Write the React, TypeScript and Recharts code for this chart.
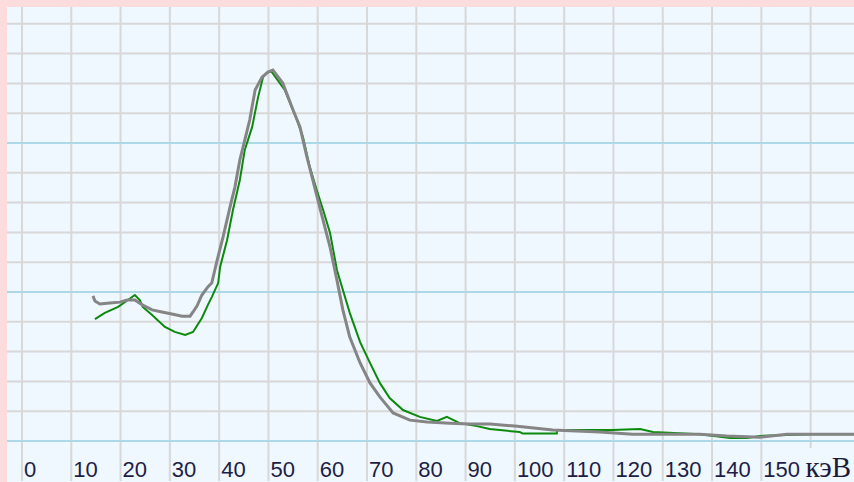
import { LineChart, Line, XAxis, YAxis, ReferenceLine } from 'recharts'

// energy (keV) and counts
const grayEnergy = [
  14.4, 14.8, 15.8, 17.8, 19.9, 21.3, 22.9, 24.5, 26.4, 28.4, 30.4, 32.5, 34.1, 34.7, 35.5,
  36.5, 37.7, 38.5, 39.6, 40.8, 42.2, 43.2, 44.2, 45.2, 46.2, 47.3, 48.7, 49.9, 50.9, 52.9,
  55.0, 56.4, 57.8, 59.0, 60.4, 62.5, 63.9, 65.1, 66.5, 68.6, 70.6, 72.6, 75.3, 78.7, 82.2,
  86.8, 90.9, 95.0, 100.0, 107.7, 117.2, 123.9, 128.0, 137.5, 143.0, 149.7, 155.2, 164.5, 168.8,
]
const grayCounts = [
  48.7, 47.0, 46.0, 46.3, 46.6, 47.3, 47.3, 45.6, 44.0, 43.3, 42.6, 41.9, 41.9, 43.3, 45.3,
  49.0, 51.7, 53.0, 60.7, 68.5, 78.5, 85.2, 94.3, 101.0, 107.7, 117.8, 122.1, 123.8, 124.5, 120.1,
  111.1, 105.4, 95.3, 87.6, 78.5, 65.1, 54.0, 44.0, 34.9, 26.2, 19.5, 14.8, 9.4, 7.0, 6.4,
  6.0, 5.7, 5.7, 5.0, 3.7, 3.0, 2.3, 2.3, 2.3, 1.7, 1.3, 2.3, 2.3, 2.3,
]

const greenEnergy = [
  14.8, 16.8, 19.5, 21.5, 22.9, 23.9, 24.5, 26.4, 29.0, 31.0, 33.1, 34.7, 36.5, 37.7, 38.5,
  39.8, 40.2, 41.6, 42.8, 44.2, 45.2, 46.7, 47.9, 48.9, 49.9, 50.7, 53.3, 55.8, 57.0, 58.4,
  59.8, 61.1, 62.5, 63.9, 64.5, 66.5, 68.6, 70.6, 72.6, 74.6, 77.3, 80.7, 84.2, 86.2, 88.8,
  92.3, 94.9, 101.0, 101.6, 108.5, 108.6, 119.7, 125.4, 128.0, 137.5, 143.6, 147.1, 149.7, 160.4, 168.8,
]
const greenCounts = [
  40.9, 43.0, 45.0, 47.3, 49.0, 47.3, 45.0, 42.3, 38.3, 36.6, 35.6, 36.6, 41.3, 45.6, 48.3,
  53.0, 58.4, 67.4, 77.5, 87.6, 97.7, 105.4, 115.4, 122.1, 123.8, 123.8, 117.8, 107.7, 102.0, 91.9,
  84.2, 77.5, 69.8, 57.4, 54.0, 43.0, 33.2, 26.2, 19.5, 14.4, 10.4, 8.1, 6.7, 8.1, 6.0,
  5.0, 4.0, 3.0, 2.5, 2.5, 3.7, 3.7, 4.0, 3.0, 2.3, 1.0, 1.0, 1.7, 2.3, 2.3,
]

const energyTicks = [0, 10, 20, 30, 40, 50, 60, 70, 80, 90, 100, 110, 120, 130, 140, 150, 160]
const grayGridCounts = [10, 20, 30, 40, 60, 70, 80, 90, 110, 120, 130, 140]
const blueGridCounts = [0, 50, 100]
const unitLabel = 'кэВ'

const grayData = grayEnergy.map((e, i) => ({ e, v: grayCounts[i] }))
const greenData = greenEnergy.map((e, i) => ({ e, v: greenCounts[i] }))

const W = 854
const H = 482
const BG = '#eff7ff'

function renderTick(props: any) {
  const { x, payload } = props
  const base = H - 5
  if (payload.value === 160) {
    return (
      <g key={`t${payload.value}`}>
        <rect x={x - 5} y={base - 29} width={60} height={34} fill={BG} />
        <text
          x={x - 5}
          y={base}
          fontFamily="'Liberation Serif', 'Times New Roman', serif"
          fontSize={29}
          fill="#1c1c3a"
        >
          {unitLabel}
        </text>
      </g>
    )
  }
  return (
    <text
      key={`t${payload.value}`}
      x={x + 2}
      y={base}
      fontFamily="'Liberation Sans', Arial, sans-serif"
      fontSize={22}
      fill="#1e1e46"
    >
      {payload.value}
    </text>
  )
}

export default function App() {
  return (
    <div style={{ position: 'absolute', left: 0, top: 0, width: W, height: H, background: '#fddcde' }}>
      <div style={{ position: 'absolute', left: 7, top: 7, width: W - 7, height: H - 7, background: BG }} />
      <div style={{ position: 'absolute', left: 0, top: 0 }}>
        <LineChart width={W} height={H} margin={{ top: 7, right: 0, left: 7, bottom: 0 }}>
          <XAxis
            type="number"
            dataKey="e"
            domain={[-3.04, 168.8]}
            allowDataOverflow
            ticks={energyTicks}
            interval={0}
            height={1}
            tickSize={0}
            tickMargin={0}
            axisLine={false}
            tickLine={false}
            tick={renderTick}
          />
          <YAxis type="number" dataKey="v" domain={[-13.42, 145.64]} allowDataOverflow hide />
          {energyTicks.map((v) => (
            <ReferenceLine key={`x${v}`} x={v} stroke="#d8d8d8" strokeWidth={2} zIndex={-10} />
          ))}
          {grayGridCounts.map((v) => (
            <ReferenceLine key={`g${v}`} y={v} stroke="#d8d8d8" strokeWidth={2} zIndex={-10} />
          ))}
          {blueGridCounts.map((v) => (
            <ReferenceLine key={`b${v}`} y={v} stroke="#acd8e8" strokeWidth={2} zIndex={-9} />
          ))}
          <Line
            data={greenData}
            dataKey="v"
            type="linear"
            stroke="#0c8a0c"
            strokeWidth={2}
            dot={false}
            isAnimationActive={false}
          />
          <Line
            data={grayData}
            dataKey="v"
            type="linear"
            stroke="#858585"
            strokeWidth={3}
            dot={false}
            isAnimationActive={false}
          />
        </LineChart>
      </div>
    </div>
  )
}
